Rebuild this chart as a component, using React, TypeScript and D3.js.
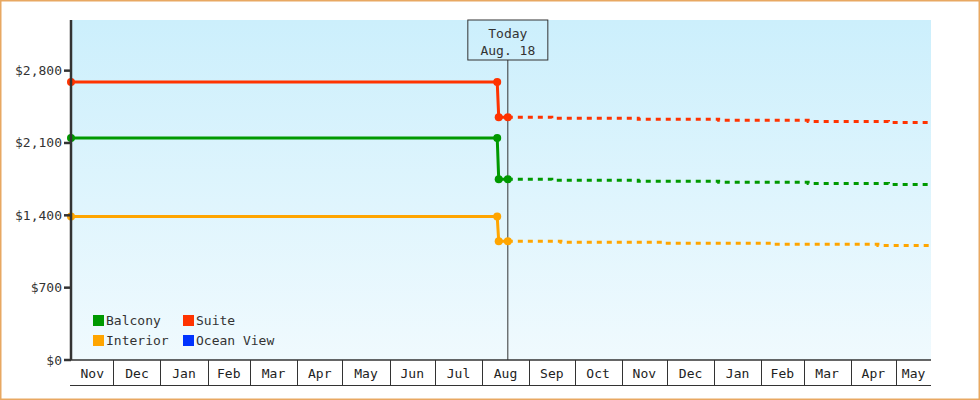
import React from "react";
import * as d3 from "d3";

const parse = d3.timeParse("%Y-%m-%d");

const xDomain = ["2012-11-03", "2014-05-24"];
const yMax = 3290;
const yTicks = [0, 700, 1400, 2100, 2800];

const seriesNames = ["Balcony", "Suite", "Interior", "Ocean View"];
const seriesColors = ["#009900", "#FF3300", "#FFA500", "#0033FF"];

const historyDates = ["2012-11-03", "2013-08-11", "2013-08-12", "2013-08-18"];
const balconyHistory = [2149, 2149, 1749, 1749];
const suiteHistory = [2690, 2690, 2349, 2349];
const interiorHistory = [1389, 1389, 1149, 1149];

const upperForecastDates = ["2013-08-18", "2013-09-16", "2013-11-12", "2014-01-04", "2014-03-04", "2014-04-26", "2014-05-24"];
const balconyForecast = [1749, 1739, 1729, 1719, 1709, 1699, 1699];
const suiteForecast = [2349, 2339, 2329, 2319, 2309, 2299, 2299];
const interiorForecastDates = ["2013-08-18", "2013-09-22", "2013-11-28", "2014-02-08", "2014-04-19", "2014-05-24"];
const interiorForecast = [1149, 1139, 1129, 1119, 1109, 1109];

const todayDate = "2013-08-18";
const todayLabel = ["Today", "Aug. 18"];

const FONT = "'DejaVu Sans Mono', monospace";
const INK = "#333333";

export default function App() {
  const W = 980, H = 400;
  const left = 71, right = 931, top = 20, bottom = 360;
  const x = d3.scaleTime().domain(xDomain.map((d) => parse(d) as Date)).range([left, right]);
  const y = d3.scaleLinear().domain([0, yMax]).range([bottom, top]);
  const fmt = d3.format("$,");

  const hist = [
    { color: seriesColors[0], dates: historyDates, vals: balconyHistory },
    { color: seriesColors[1], dates: historyDates, vals: suiteHistory },
    { color: seriesColors[2], dates: historyDates, vals: interiorHistory },
  ];
  const fc = [
    { color: seriesColors[0], dates: upperForecastDates, vals: balconyForecast },
    { color: seriesColors[1], dates: upperForecastDates, vals: suiteForecast },
    { color: seriesColors[2], dates: interiorForecastDates, vals: interiorForecast },
  ];

  const lineLin = d3.line<[Date, number]>().x((d) => x(d[0])).y((d) => y(d[1]));
  const lineStep = d3.line<[Date, number]>().x((d) => x(d[0])).y((d) => y(d[1])).curve(d3.curveStepAfter);

  const [d0, d1] = x.domain();
  const monthStarts = d3.timeMonth.range(d0, d1);
  const bounds = [d0, ...monthStarts, d1];
  const monthFmt = d3.timeFormat("%b");

  const tx = x(parse(todayDate) as Date);

  const legendPos = [[93, 315], [183, 315], [93, 335], [183, 335]];

  return (
    <svg width={W} height={H} style={{ position: "fixed", left: 0, top: 0, display: "block" }} fontFamily={FONT} fontSize={13}>
      <defs>
        <linearGradient id="bg" x1="0" y1="0" x2="0" y2="1">
          <stop offset="0" stopColor="#CCEFFC" />
          <stop offset="1" stopColor="#F0FAFE" />
        </linearGradient>
      </defs>
      <rect x={0} y={0} width={W} height={H} fill="#fff" />
      <rect x={0.75} y={0.75} width={W - 1.5} height={H - 1.5} fill="none" stroke="#E8A862" strokeWidth={1.5} />
      <rect x={left} y={top} width={right - left} height={bottom - top} fill="url(#bg)" />

      {/* today line */}
      <line x1={tx} x2={tx} y1={60} y2={bottom} stroke={INK} strokeWidth={1} />
      <rect x={tx - 40} y={top} width={80} height={40} fill="none" stroke={INK} strokeWidth={1} />
      <text x={tx} y={33} textAnchor="middle" dominantBaseline="central" fill={INK}>{todayLabel[0]}</text>
      <text x={tx} y={50} textAnchor="middle" dominantBaseline="central" fill={INK}>{todayLabel[1]}</text>

      {/* forecast dashed */}
      {fc.map((s, i) => (
        <path key={"f" + i} d={lineStep(s.dates.map((d, j) => [parse(d) as Date, s.vals[j]])) || ""} fill="none" stroke={s.color} strokeWidth={3} strokeDasharray="5,5" />
      ))}
      {/* history solid */}
      {hist.map((s, i) => (
        <path key={"h" + i} d={lineLin(s.dates.map((d, j) => [parse(d) as Date, s.vals[j]])) || ""} fill="none" stroke={s.color} strokeWidth={3} />
      ))}
      {hist.map((s, i) =>
        s.dates.map((d, j) => (
          <circle key={"m" + i + "_" + j} cx={x(parse(d) as Date)} cy={y(s.vals[j])} r={4} fill={s.color} />
        ))
      )}

      {/* y axis */}
      <line x1={left} x2={left} y1={top} y2={bottom} stroke={INK} strokeWidth={2.5} />
      {yTicks.map((t) => (
        <g key={t}>
          <line x1={left - 7} x2={left} y1={y(t)} y2={y(t)} stroke={INK} strokeWidth={2.5} />
          <text x={62} y={y(t)} textAnchor="end" dominantBaseline="central" fill={INK}>{fmt(t)}</text>
        </g>
      ))}

      {/* x axis month boxes */}
      <line x1={left - 1} x2={right} y1={bottom} y2={bottom} stroke={INK} strokeWidth={1.5} />
      <line x1={left - 1} x2={right} y1={385.5} y2={385.5} stroke={INK} strokeWidth={1} />
      {monthStarts.map((m, i) => (
        <line key={"s" + i} x1={Math.round(x(m)) + 0.5} x2={Math.round(x(m)) + 0.5} y1={bottom} y2={385.5} stroke={INK} strokeWidth={1} />
      ))}
      {bounds.slice(0, -1).map((b, i) => (
        <text key={"ml" + i} x={(x(b) + x(bounds[i + 1])) / 2} y={373} textAnchor="middle" dominantBaseline="central" fill="#222">{monthFmt(b)}</text>
      ))}

      {/* legend */}
      {seriesNames.map((n, i) => (
        <g key={n}>
          <rect x={legendPos[i][0]} y={legendPos[i][1]} width={11} height={11} fill={seriesColors[i]} />
          <text x={legendPos[i][0] + 13} y={legendPos[i][1] + 5.5} dominantBaseline="central" fill={INK}>{n}</text>
        </g>
      ))}
    </svg>
  );
}
